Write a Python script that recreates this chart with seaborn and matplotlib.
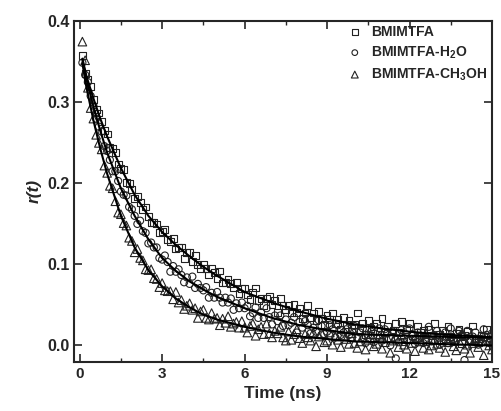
import numpy as np
import matplotlib
matplotlib.use("Agg")
import matplotlib.pyplot as plt
from matplotlib.ticker import MultipleLocator, FormatStrFormatter
import seaborn as sns

# sampling grid of the decay (ns)
time_ns = np.round(np.arange(1, 151) * 0.1, 1)

r_bmimtfa = [0.358, 0.336, 0.328, 0.320, 0.304, 0.291, 0.287, 0.276, 0.265, 0.261,
             0.244, 0.243, 0.238, 0.224, 0.218, 0.217, 0.201, 0.200, 0.192, 0.181,
             0.184, 0.176, 0.168, 0.171, 0.159, 0.152, 0.152, 0.150, 0.139, 0.141,
             0.143, 0.131, 0.128, 0.132, 0.119, 0.121, 0.121, 0.107, 0.115, 0.115,
             0.104, 0.111, 0.100, 0.095, 0.100, 0.095, 0.087, 0.095, 0.090, 0.083,
             0.092, 0.077, 0.078, 0.081, 0.076, 0.071, 0.078, 0.064, 0.070, 0.071,
             0.063, 0.057, 0.066, 0.071, 0.056, 0.058, 0.049, 0.058, 0.060, 0.051,
             0.056, 0.041, 0.058, 0.049, 0.044, 0.049, 0.040, 0.051, 0.041, 0.046,
             0.033, 0.040, 0.049, 0.034, 0.040, 0.031, 0.042, 0.033, 0.026, 0.037,
             0.032, 0.040, 0.027, 0.032, 0.020, 0.035, 0.026, 0.031, 0.021, 0.026,
             0.040, 0.020, 0.027, 0.014, 0.031, 0.021, 0.023, 0.027, 0.014, 0.033,
             0.016, 0.023, 0.010, 0.019, 0.027, 0.016, 0.030, 0.005, 0.020, 0.027,
             0.012, 0.009, 0.024, 0.016, 0.018, 0.005, 0.020, 0.012, 0.027, 0.007,
             0.014, 0.019, 0.008, 0.023, 0.011, 0.005, 0.015, 0.020, 0.002, 0.012,
             0.017, 0.007, 0.024, 0.009, 0.004, 0.013, 0.011, 0.020, 0.005, 0.000]

r_h2o = [0.349, 0.334, 0.325, 0.308, 0.296, 0.280, 0.270, 0.264, 0.246, 0.240,
         0.229, 0.215, 0.215, 0.203, 0.190, 0.186, 0.185, 0.171, 0.168, 0.160,
         0.150, 0.154, 0.141, 0.139, 0.126, 0.127, 0.121, 0.121, 0.108, 0.106,
         0.111, 0.103, 0.091, 0.098, 0.091, 0.094, 0.087, 0.078, 0.084, 0.076,
         0.085, 0.071, 0.076, 0.071, 0.068, 0.072, 0.059, 0.065, 0.059, 0.066,
         0.059, 0.053, 0.059, 0.053, 0.058, 0.044, 0.052, 0.046, 0.053, 0.046,
         0.049, 0.036, 0.040, 0.047, 0.034, 0.041, 0.034, 0.046, 0.035, 0.026,
         0.037, 0.030, 0.037, 0.024, 0.032, 0.025, 0.028, 0.035, 0.016, 0.029,
         0.022, 0.030, 0.025, 0.015, 0.022, 0.017, 0.031, 0.024, 0.014, 0.017,
         0.025, 0.020, 0.010, 0.025, 0.013, 0.016, 0.020, 0.013, 0.009, 0.024,
         0.009, 0.016, 0.021, 0.003, 0.013, 0.017, 0.004, 0.009, 0.021, 0.006,
         0.020, 0.015, 0.000, 0.017, -0.016, 0.004, 0.019, 0.009, 0.006, 0.021,
         0.014, 0.002, 0.016, 0.011, 0.003, 0.008, 0.023, 0.005, 0.013, 0.018,
         0.001, 0.011, 0.016, 0.003, 0.021, 0.008, 0.006, 0.018, 0.013, -0.018,
         0.018, 0.006, 0.011, 0.016, 0.001, 0.008, 0.020, 0.013, 0.003, 0.015]

r_ch3oh = [0.375, 0.352, 0.318, 0.293, 0.280, 0.260, 0.250, 0.242, 0.222, 0.213,
           0.197, 0.194, 0.178, 0.164, 0.162, 0.151, 0.148, 0.133, 0.129, 0.115,
           0.119, 0.108, 0.105, 0.094, 0.093, 0.094, 0.083, 0.082, 0.072, 0.077,
           0.068, 0.067, 0.067, 0.057, 0.066, 0.053, 0.056, 0.045, 0.049, 0.052,
           0.044, 0.046, 0.034, 0.042, 0.044, 0.034, 0.032, 0.040, 0.033, 0.034,
           0.025, 0.033, 0.028, 0.036, 0.023, 0.027, 0.029, 0.022, 0.030, 0.022,
           0.016, 0.024, 0.027, 0.012, 0.020, 0.023, 0.014, 0.027, 0.015, 0.010,
           0.018, 0.015, 0.023, 0.010, 0.006, 0.017, 0.007, 0.014, 0.020, 0.009,
           0.003, 0.014, 0.010, 0.006, 0.016, -0.001, 0.011, 0.015, 0.004, 0.006,
           0.016, 0.001, 0.011, 0.007, -0.002, 0.012, 0.008, 0.002, 0.015, 0.003,
           -0.003, 0.005, 0.010, -0.005, 0.007, 0.014, -0.001, 0.002, 0.012, -0.004,
           0.004, 0.009, -0.009, 0.006, 0.011, -0.002, 0.013, 0.001, -0.004, 0.008,
           0.003, -0.007, 0.010, 0.005, -0.003, 0.015, -0.005, 0.000, 0.007, 0.002,
           -0.003, 0.012, -0.008, 0.004, 0.009, -0.001, -0.006, 0.006, 0.014, -0.004,
           0.001, -0.009, 0.003, 0.008, -0.002, 0.005, -0.012, 0.010, 0.000, -0.005]

# fitted decay curves
fit_t = [0.1, 0.25, 0.5, 0.75, 1.0, 1.5, 2.0, 2.5, 3.0, 3.5, 4.0, 4.5, 5.0,
         6.0, 7.0, 8.0, 9.0, 10.0, 11.0, 12.0, 13.0, 14.0, 15.0]
fit_bmimtfa = [0.354, 0.332, 0.305, 0.280, 0.258, 0.219, 0.186, 0.160, 0.140, 0.124, 0.110, 0.097,
               0.086, 0.066, 0.053, 0.042, 0.033, 0.026, 0.021, 0.017, 0.014, 0.012, 0.010]
fit_h2o = [0.353, 0.328, 0.295, 0.265, 0.238, 0.194, 0.160, 0.131, 0.108, 0.092, 0.079, 0.069,
           0.060, 0.046, 0.034, 0.025, 0.019, 0.014, 0.013, 0.012, 0.011, 0.010, 0.010]
fit_ch3oh = [0.348, 0.318, 0.278, 0.243, 0.212, 0.160, 0.121, 0.093, 0.073, 0.058, 0.047, 0.038,
             0.032, 0.023, 0.016, 0.011, 0.008, 0.005, 0.004, 0.003, 0.002, 0.001, 0.000]

labels = ["BMIMTFA", "BMIMTFA-H$_2$O", "BMIMTFA-CH$_3$OH"]
markers = ["s", "o", "^"]
sizes = [24, 26, 38]

sns.set_style("ticks")
plt.rcParams["font.family"] = ["Liberation Sans", "DejaVu Sans"]
plt.rcParams["font.weight"] = "bold"
plt.rcParams["mathtext.default"] = "regular"

fig = plt.figure(figsize=(5.01, 4.11), dpi=100)
ax = fig.add_axes([0.148, 0.12, 0.834, 0.83])

for vals, lab, mk, sz in zip([r_bmimtfa, r_h2o, r_ch3oh], labels, markers, sizes):
    sns.scatterplot(x=time_ns, y=vals, marker=mk, s=sz, color="#222222",
                    facecolor="none", edgecolor="#222222", linewidth=0.8,
                    label=lab, ax=ax, zorder=2)

for fit in [fit_bmimtfa, fit_h2o, fit_ch3oh]:
    sns.lineplot(x=fit_t, y=fit, color="black", linewidth=1.5, ax=ax, zorder=3)

ax.set_xlim(-0.2, 15)
ax.set_ylim(-0.02, 0.401)
ax.xaxis.set_major_locator(MultipleLocator(3))
ax.xaxis.set_minor_locator(MultipleLocator(1.5))
ax.yaxis.set_major_locator(MultipleLocator(0.1))
ax.yaxis.set_major_formatter(FormatStrFormatter("%.1f"))
ax.tick_params(which="major", direction="in", top=True, right=True,
               length=6, width=1.2, labelsize=11.5)
ax.tick_params(axis="x", which="major", labelsize=11)
ax.tick_params(which="minor", direction="in", top=True, right=True,
               length=3, width=1.0)
for sp in ax.spines.values():
    sp.set_linewidth(1.5)

ax.set_xlabel("Time (ns)", fontsize=12.5, fontweight="bold")
ax.set_ylabel("r(t)", fontsize=12.5, fontweight="bold", fontstyle="italic")

leg = ax.legend(loc="upper right", frameon=False, prop={"weight": "bold", "size": 10},
                handletextpad=0.7, borderaxespad=0.1, labelspacing=0.4,
                handlelength=1.0, borderpad=0.2, markerscale=0.8)

plt.savefig("out.png", dpi=100)
